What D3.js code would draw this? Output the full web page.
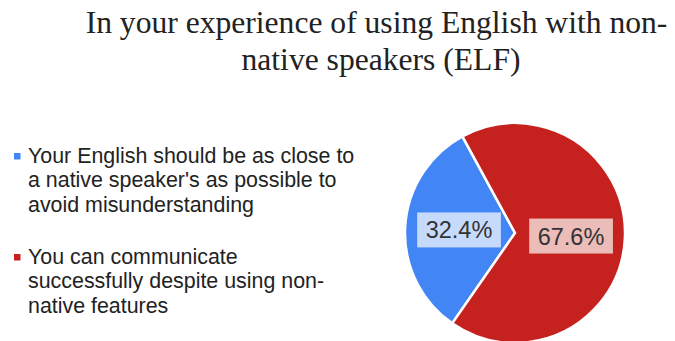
<!DOCTYPE html>
<html>
<head>
<meta charset="utf-8">
<script src="https://cdn.jsdelivr.net/npm/d3@7"></script>
<style>
  body { margin: 0; background: #fff; }
  svg { display: block; }
</style>
</head>
<body>
<div id="chart"></div>
<script>
const titleLines = ["In your experience of using English with non-", "native speakers (ELF)"];
const categories = [
  "Your English should be as close to a native speaker's as possible to avoid misunderstanding",
  "You can communicate successfully despite using non-native features"
];
const legendLines = [
  ["Your English should be as close to", "a native speaker's as possible to", "avoid misunderstanding"],
  ["You can communicate", "successfully despite using non-", "native features"]
];
const values = [32.4, 67.6];
const colors = ["#4285f4", "#c5221f"];
const labelFills = ["#c6dafc", "#ecbcb8"];

const width = 675, height = 341;
const cx = 515, cy = 233, radius = 110;

const svg = d3.select("#chart")
  .append("svg")
  .attr("width", width)
  .attr("height", height);

// title
svg.append("g")
  .selectAll("text")
  .data(titleLines)
  .enter().append("text")
  .attr("x", (d, i) => i === 0 ? 376.5 : 381)
  .attr("y", (d, i) => 32.5 + i * 37.5)
  .attr("text-anchor", "middle")
  .style("font-family", "'Liberation Serif', 'Times New Roman', serif")
  .style("font-size", "31.6px")
  .style("fill", "#222")
  .text(d => d);

// legend
const legend = svg.append("g")
  .selectAll(".legend")
  .data(categories)
  .enter().append("g")
  .attr("class", "legend")
  .attr("transform", (d, i) => `translate(0,${i * 101})`);

legend.append("rect")
  .attr("x", 14)
  .attr("y", 153)
  .attr("width", 6.5)
  .attr("height", 6.5)
  .style("fill", (d, i) => colors[i]);

legend.append("text")
  .style("font-family", "'Liberation Sans', Arial, sans-serif")
  .style("font-size", "21.4px")
  .style("fill", "#222")
  .selectAll("tspan")
  .data((d, i) => legendLines[i])
  .enter().append("tspan")
  .attr("x", 28)
  .attr("y", (d, j) => 163 + j * 24.3)
  .text(d => d);

// pie
const pie = d3.pie()
  .sort(null)
  .startAngle(214.8 * Math.PI / 180)
  .endAngle((214.8 + 360) * Math.PI / 180);

const arc = d3.arc().innerRadius(0).outerRadius(radius);
const labelArc = d3.arc().innerRadius(radius * 0.51).outerRadius(radius * 0.51);

const arcs = pie(values);

const g = svg.append("g")
  .attr("transform", `translate(${cx},${cy})`);

g.selectAll(".slice")
  .data(arcs)
  .enter().append("path")
  .attr("class", "slice")
  .attr("d", arc)
  .style("fill", (d, i) => colors[i])
  .style("stroke", "#fff")
  .style("stroke-width", 2.5);

const labels = g.selectAll(".label")
  .data(arcs)
  .enter().append("g")
  .attr("class", "label")
  .attr("transform", d => `translate(${labelArc.centroid(d)})`);

labels.append("text")
  .attr("text-anchor", "middle")
  .attr("dy", "0.36em")
  .style("font-family", "'Liberation Sans', Arial, sans-serif")
  .style("font-size", "23.5px")
  .style("fill", "#333")
  .text(d => d.data.toFixed(1) + "%");

labels.each(function(d, i) {
  const t = d3.select(this).select("text");
  const bb = t.node().getBBox();
  d3.select(this).insert("rect", "text")
    .attr("x", bb.x - 8.5)
    .attr("y", -17.5)
    .attr("width", bb.width + 17)
    .attr("height", 35)
    .style("fill", labelFills[i]);
});
</script>
</body>
</html>
